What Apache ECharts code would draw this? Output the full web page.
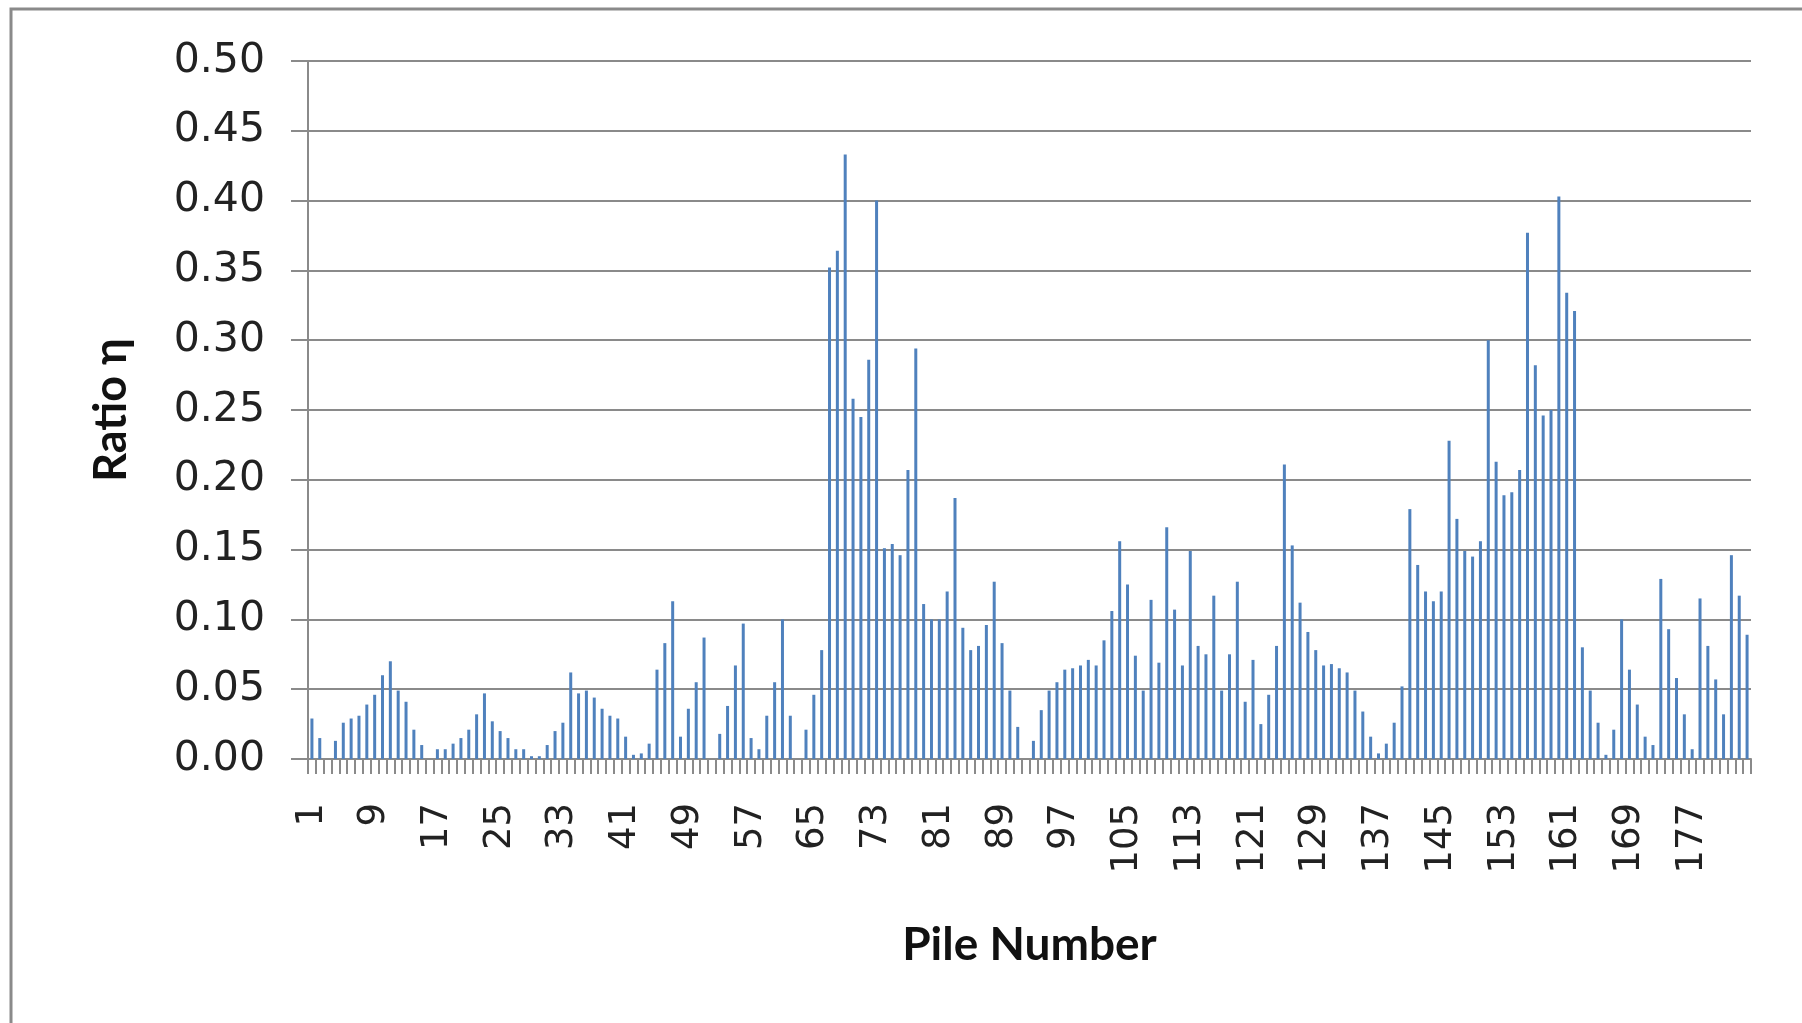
<!DOCTYPE html>
<html>
<head>
<meta charset="utf-8">
<script src="https://cdn.jsdelivr.net/npm/echarts@6/dist/echarts.min.js"></script>
<style>
html,body{margin:0;padding:0;background:#fff;}
#chart{width:1802px;height:1023px;}
</style>
</head>
<body>
<div id="chart"></div>
<script>
// Pile numbers 1..184
const pileNumbers = [];
for (let i = 1; i <= 184; i++) pileNumbers.push(String(i));

// Ratio η values (piles 1..184)
const ratioValues = [
  0.029, 0.015, 0.000, 0.013, 0.026, 0.029, 0.031, 0.039, 0.046, 0.060,
  0.070, 0.049, 0.041, 0.021, 0.010, 0.000, 0.007, 0.007, 0.011, 0.015,
  0.021, 0.032, 0.047, 0.027, 0.020, 0.015, 0.007, 0.007, 0.002, 0.002,
  0.010, 0.020, 0.026, 0.062, 0.047, 0.049, 0.044, 0.036, 0.031, 0.029,
  0.016, 0.003, 0.004, 0.011, 0.064, 0.083, 0.113, 0.016, 0.036, 0.055,
  0.087, 0.000, 0.018, 0.038, 0.067, 0.097, 0.015, 0.007, 0.031, 0.055,
  0.100, 0.031, 0.000, 0.021, 0.046, 0.078, 0.352, 0.364, 0.433, 0.258,
  0.245, 0.286, 0.400, 0.151, 0.154, 0.146, 0.207, 0.294, 0.111, 0.100,
  0.100, 0.120, 0.187, 0.094, 0.078, 0.081, 0.096, 0.127, 0.083, 0.049,
  0.023, 0.000, 0.013, 0.035, 0.049, 0.055, 0.064, 0.065, 0.067, 0.071,
  0.067, 0.085, 0.106, 0.156, 0.125, 0.074, 0.049, 0.114, 0.069, 0.166,
  0.107, 0.067, 0.149, 0.081, 0.075, 0.117, 0.049, 0.075, 0.127, 0.041,
  0.071, 0.025, 0.046, 0.081, 0.211, 0.153, 0.112, 0.091, 0.078, 0.067,
  0.068, 0.065, 0.062, 0.049, 0.034, 0.016, 0.004, 0.011, 0.026, 0.052,
  0.179, 0.139, 0.120, 0.113, 0.120, 0.228, 0.172, 0.149, 0.145, 0.156,
  0.300, 0.213, 0.189, 0.191, 0.207, 0.377, 0.282, 0.246, 0.250, 0.403,
  0.334, 0.321, 0.080, 0.049, 0.026, 0.003, 0.021, 0.100, 0.064, 0.039,
  0.016, 0.010, 0.129, 0.093, 0.058, 0.032, 0.007, 0.115, 0.081, 0.057,
  0.032, 0.146, 0.117, 0.089
];

const yAxisName = 'Ratio η';
const xAxisName = 'Pile Number';

const chart = echarts.init(document.getElementById('chart'), null, {renderer: 'canvas'});
chart.setOption({
  animation: false,
  backgroundColor: '#ffffff',
  graphic: [{
    type: 'rect',
    shape: {x: 11, y: 9, width: 1900, height: 1100},
    style: {fill: 'none', stroke: '#8a8a8a', lineWidth: 3},
    z: -1
  }],
  grid: {left: 308, right: 51, top: 61, bottom: 264, containLabel: false},
  xAxis: {
    type: 'category',
    data: pileNumbers,
    name: xAxisName,
    nameLocation: 'middle',
    nameGap: 163,
    nameTextStyle: {fontFamily: 'Lato', fontWeight: 'bold', fontSize: 46, color: '#111'},
    axisLine: {show: true, lineStyle: {color: '#8a8a8a', width: 2}},
    axisTick: {show: true, interval: 0, length: 15, lineStyle: {color: '#8a8a8a', width: 2}},
    axisLabel: {
      interval: 7, rotate: 90, margin: 44,
      fontFamily: 'DejaVu Sans', fontSize: 37, color: '#222'
    },
    splitLine: {show: false}
  },
  yAxis: {
    type: 'value',
    min: 0, max: 0.5, interval: 0.05,
    name: yAxisName,
    nameLocation: 'middle',
    nameGap: 174,
    nameTextStyle: {fontFamily: 'Lato', fontWeight: 'bold', fontSize: 45, color: '#111'},
    axisLine: {show: true, lineStyle: {color: '#8a8a8a', width: 2}},
    axisTick: {show: true, length: 17, lineStyle: {color: '#8a8a8a', width: 2}},
    axisLabel: {
      margin: 43,
      fontFamily: 'DejaVu Sans', fontSize: 41, color: '#222',
      formatter: v => v.toFixed(2)
    },
    splitLine: {show: true, lineStyle: {color: '#8a8a8a', width: 2}}
  },
  series: [{
    type: 'bar',
    data: ratioValues,
    barWidth: 3,
    itemStyle: {color: '#4F81BD'}
  }]
});
</script>
</body>
</html>
